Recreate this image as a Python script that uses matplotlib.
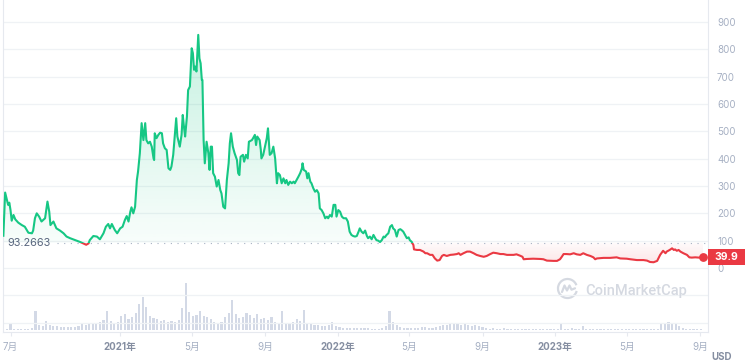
import numpy as np
import matplotlib.pyplot as plt
import matplotlib.dates as mdates
from matplotlib.patches import Rectangle, PathPatch, Arc
from matplotlib.path import Path
from matplotlib.lines import Line2D
from matplotlib.transforms import blended_transform_factory

plt.rcParams['font.family'] = ['Inter', 'Noto Sans CJK SC', 'DejaVu Sans']

# days counted from 2020-07-01, price in USD
start_date = np.datetime64('2020-07-01')
price_days = [
    -12, -9, -6, -4, -2, 0, 2, 5, 8, 13, 19, 24, 30, 36, 38, 41, 44, 48, 52, 58,
    62, 65, 67, 72, 77, 83, 89, 94, 100, 105, 111, 117, 122, 127, 131, 133, 139, 145, 150, 156,
    160, 164, 167, 170, 175, 179, 184, 188, 192, 195, 198, 201, 203, 206, 209, 212, 214, 217, 220, 223,
    226, 228, 231, 234, 237, 240, 241, 242, 245, 248, 251, 254, 256, 259, 262, 265, 268, 270, 273, 276,
    278, 280, 284, 287, 289, 291, 293, 296, 298, 301, 304, 306, 308, 310, 312, 315, 317, 319, 321, 322,
    324, 326, 329, 332, 334, 336, 338, 340, 343, 346, 349, 352, 354, 357, 360, 363, 366, 368, 370, 373,
    376, 380, 382, 384, 386, 390, 392, 395, 398, 400, 405, 407, 410, 412, 414, 418, 420, 421, 424, 427,
    430, 432, 435, 438, 441, 444, 447, 449, 452, 455, 458, 461, 463, 466, 469, 472, 475, 477, 480, 483,
    486, 489, 490, 492, 496, 498, 500, 503, 505, 508, 511, 514, 517, 519, 522, 525, 528, 531, 533, 536,
    539, 542, 545, 547, 550, 553, 556, 559, 563, 566, 569, 572, 575, 578, 581, 584, 586, 589, 592, 595,
    598, 600, 603, 606, 609, 612, 614, 617, 620, 623, 626, 628, 631, 634, 637, 640, 642, 645, 648, 651,
    654, 656, 659, 662, 665, 668, 670, 673, 676, 677, 682, 687, 693, 696, 699, 704, 708, 712, 716, 720,
    724, 727, 732, 738, 743, 749, 752, 755, 760, 766, 771, 777, 782, 788, 794, 799, 805, 810, 816, 822,
    827, 833, 838, 844, 849, 855, 859, 861, 866, 877, 889, 894, 900, 911, 917, 922, 925, 928, 933, 939,
    945, 950, 956, 961, 967, 973, 978, 981, 984, 995, 1006, 1017, 1023, 1034, 1040, 1051, 1062, 1068, 1073, 1079,
    1085, 1087, 1090, 1095, 1099, 1101, 1106, 1110, 1113, 1115, 1118, 1121, 1124, 1129, 1135, 1139, 1143, 1149, 1155, 1162,
]
price_usd = [
    118, 276, 249, 231, 239, 212, 173, 194, 178, 166, 157, 151, 129, 127, 137, 182, 200, 188, 170, 182,
    243, 206, 157, 170, 145, 137, 127, 115, 109, 105, 100, 95, 90, 85, 90, 102, 117, 115, 105, 127,
    151, 161, 145, 161, 139, 127, 145, 151, 176, 190, 170, 206, 222, 200, 224, 322, 353, 420, 530, 468,
    530, 468, 456, 462, 444, 401, 395, 493, 475, 487, 495, 493, 456, 438, 432, 365, 359, 371, 414, 493,
    548, 481, 444, 487, 560, 517, 481, 554, 651, 664, 804, 786, 725, 737, 719, 853, 767, 749, 688, 688,
    468, 383, 462, 420, 359, 444, 444, 347, 334, 298, 322, 285, 273, 224, 218, 322, 383, 456, 493, 444,
    420, 395, 347, 340, 407, 414, 389, 414, 401, 462, 468, 475, 487, 450, 481, 468, 432, 401, 414, 444,
    475, 511, 414, 420, 444, 401, 310, 347, 340, 310, 328, 310, 322, 304, 316, 310, 316, 310, 322, 334,
    347, 365, 383, 359, 353, 328, 347, 316, 310, 292, 279, 285, 273, 218, 212, 200, 182, 188, 182, 194,
    188, 231, 231, 188, 212, 206, 188, 182, 182, 170, 133, 121, 117, 115, 117, 133, 145, 133, 127, 137,
    117, 109, 115, 105, 121, 109, 102, 100, 95, 102, 115, 112, 121, 127, 151, 157, 145, 139, 115, 139,
    142, 139, 133, 121, 109, 112, 102, 96, 84, 68, 66, 66, 60, 54, 54, 48, 48, 35, 27, 29,
    44, 48, 44, 48, 49, 51, 54, 48, 54, 60, 60, 54, 48, 44, 41, 44, 51, 56, 54, 51,
    51, 48, 48, 48, 50, 45, 41, 32, 33, 34, 33, 32, 27, 26, 26, 32, 41, 51, 51, 50,
    54, 50, 48, 54, 48, 44, 39, 32, 35, 37, 37, 39, 35, 34, 32, 29, 29, 27, 22, 21,
    26, 35, 48, 63, 54, 60, 66, 72, 66, 68, 63, 66, 60, 54, 48, 39, 38, 39, 38, 39.9,
]
base_price = 93.2663
base_label = '93.2663'
last_label = '39.9'

# 24h volume, million USD, one bar every 6 days from day -12
vol_first_day = -12
vol_step = 6
volume_musd = [
    60, 60, 240, 60, 48, 40, 48, 60, 100, 760, 200, 180, 360, 200, 180, 160, 140, 120, 140, 120,
    140, 160, 240, 200, 240, 280, 240, 320, 400, 760, 360, 280, 320, 560, 640, 440, 520, 680, 1040, 1320,
    920, 560, 480, 440, 360, 400, 320, 360, 320, 400, 880, 1880, 720, 560, 600, 760, 560, 520, 440, 320,
    280, 320, 520, 680, 1200, 640, 480, 520, 680, 600, 480, 640, 440, 480, 400, 520, 320, 280, 760, 280,
    280, 320, 440, 360, 800, 280, 240, 200, 200, 180, 160, 200, 320, 160, 140, 100, 80, 100, 80, 80,
    100, 80, 80, 60, 60, 60, 80, 160, 760, 320, 200, 120, 100, 80, 100, 80, 100, 120, 120, 100,
    100, 120, 160, 200, 200, 240, 280, 240, 200, 240, 200, 160, 200, 160, 120, 80, 60, 80, 60, 60,
    80, 60, 60, 40, 40, 60, 40, 40, 40, 40, 40, 40, 40, 40, 40, 40, 240, 60, 60, 80,
    60, 60, 160, 60, 40, 40, 40, 40, 40, 40, 40, 40, 40, 40, 40, 40, 40, 40, 40, 40,
    40, 40, 40, 60, 280, 240, 320, 240, 280, 160, 80, 60, 60, 60, 60, 40,
]

tick_dates = ['2020-07-01', '2021-01-01', '2021-05-01', '2021-09-01', '2022-01-01',
              '2022-05-01', '2022-09-01', '2023-01-01', '2023-05-01', '2023-09-01']
tick_labels = ['7月', '2021年', '5月', '9月', '2022年', '5月', '9月', '2023年', '5月', '9月']
price_ticks = [0, 100, 200, 300, 400, 500, 600, 700, 800, 900]

GREEN = '#16c784'
RED = '#ea3943'
GRID = '#eff2f5'
LABEL = '#a6b0c3'

x0 = mdates.date2num(start_date)
x = x0 + np.array(price_days, dtype=float)
p = np.array(price_usd, dtype=float)
vx = x0 + vol_first_day + vol_step * np.arange(len(volume_musd))

fig = plt.figure(figsize=(7.45, 3.63), dpi=100)
ax = fig.add_axes([3 / 745, 31 / 363, 705 / 745, 332 / 363])
vax = ax.twinx()
ax.set_zorder(vax.get_zorder() + 1)
ax.patch.set_visible(False)

# volume
vax.bar(vx, volume_musd, width=3.6, color='#d3d9e6', linewidth=0)
vax.set_ylim(-80, 13200)
vax.set_yticks([])
for s in vax.spines.values():
    s.set_visible(False)

xlim = (x0 - 12.6, x0 + 1170.3)
ylim = (-234.2, 980.6)

# gradient fills above / below the reference price
up = ax.fill_between(x, p, base_price, where=p >= base_price, interpolate=True,
                     facecolor='none', edgecolor='none')
dn = ax.fill_between(x, p, base_price, where=p <= base_price, interpolate=True,
                     facecolor='none', edgecolor='none')

def grad_fill(coll, rgb, a_bottom, a_top, y_lo, y_hi):
    paths = coll.get_paths()
    if not paths:
        return
    clip = PathPatch(Path.make_compound_path(*paths), transform=ax.transData,
                     facecolor='none', edgecolor='none')
    g = np.linspace(0, 1, 256)
    img = np.zeros((256, 1, 4))
    img[..., 0], img[..., 1], img[..., 2] = rgb
    img[:, 0, 3] = a_bottom + (a_top - a_bottom) * g
    im = ax.imshow(img, extent=[x[0], x[-1], y_lo, y_hi], origin='lower',
                   aspect='auto', zorder=1, interpolation='bilinear')
    im.set_clip_path(clip)

grad_fill(up, (22 / 255, 199 / 255, 132 / 255), 0.03, 0.24, base_price, p.max())
grad_fill(dn, (234 / 255, 57 / 255, 67 / 255), 0.12, 0.02, p.min(), base_price)

# price line, green above and red below the reference price
for col, rect in [(GREEN, Rectangle((xlim[0], base_price), 5000, 5000, transform=ax.transData)),
                  (RED, Rectangle((xlim[0], -5000), 5000, 5000 + base_price, transform=ax.transData))]:
    ln, = ax.plot(x, p, color=col, lw=1.5, solid_joinstyle='round', zorder=3)
    ln.set_clip_path(rect)

ax.plot(x[-1], p[-1], 'o', color=RED, ms=5.3, zorder=4)

ax.axhline(base_price, xmin=54 / 705, xmax=1, color='#a6b0c3', lw=0.8,
           linestyle=(0, (1, 5)), zorder=2)
bt = blended_transform_factory(ax.transAxes, ax.transData)
ax.text(4.5 / 705, base_price, base_label, transform=bt, ha='left', va='center',
        fontsize=7.8, color='#58667e')

ax.set_xlim(*xlim)
ax.set_ylim(*ylim)

# axes styling
ax.set_yticks([-200, -100] + price_ticks)
ax.set_yticklabels(['', ''] + [str(t) for t in price_ticks])
ax.yaxis.tick_right()
ax.tick_params(axis='y', length=0, pad=6.5, labelsize=7, labelcolor=LABEL)
ax.grid(axis='y', color=GRID, lw=0.9)
ax.set_axisbelow(True)

ax.set_xticks(mdates.date2num(np.array(tick_dates, dtype='datetime64[D]')))
ax.set_xticklabels(tick_labels)
ax.tick_params(axis='x', length=3, color='#e6e9ef', pad=4.5, labelsize=7, labelcolor=LABEL)
for lbl in ax.get_xticklabels():
    if '年' in lbl.get_text():
        lbl.set_fontweight('bold')
        lbl.set_color('#858ea1')

ax.spines['top'].set_visible(False)
for side in ['left', 'right', 'bottom']:
    ax.spines[side].set_color('#e6e9ef')
    ax.spines[side].set_linewidth(0.8)

# last price tag
ax.add_patch(Rectangle((1.0, p[-1] - 29.5), 37 / 705, 59, transform=bt,
                       facecolor=RED, edgecolor='none', clip_on=False, zorder=5))
ax.text(1.0 + 18.5 / 705, p[-1], last_label, transform=bt, ha='center', va='center',
        fontsize=7.5, fontweight='bold', color='white', clip_on=False, zorder=6)

fig.text(721.5 / 745, 1 - 357.5 / 363, 'USD', ha='center', va='center',
         fontsize=7, fontweight='bold', color='#858ea1')

# watermark
WM = '#d5d9e1'
fig.text(585 / 745, 1 - 291 / 363, 'CoinMarketCap', ha='left', va='center',
         fontsize=10.5, color=WM, fontweight='medium', family=['Roboto', 'DejaVu Sans'])
cx, cy = 5.675, 0.745
fig.add_artist(Arc((cx, cy), 0.19, 0.19, theta1=20, theta2=345, lw=1.6, color=WM,
                   transform=fig.dpi_scale_trans))
fig.add_artist(Line2D(cx + np.array([-0.055, -0.03, -0.005, 0.02, 0.04, 0.075]),
                      cy + np.array([-0.035, 0.03, -0.02, 0.03, -0.012, 0.002]),
                      lw=1.6, color=WM, transform=fig.dpi_scale_trans,
                      solid_joinstyle='round', solid_capstyle='round'))

fig.savefig('out.png', dpi=100)
